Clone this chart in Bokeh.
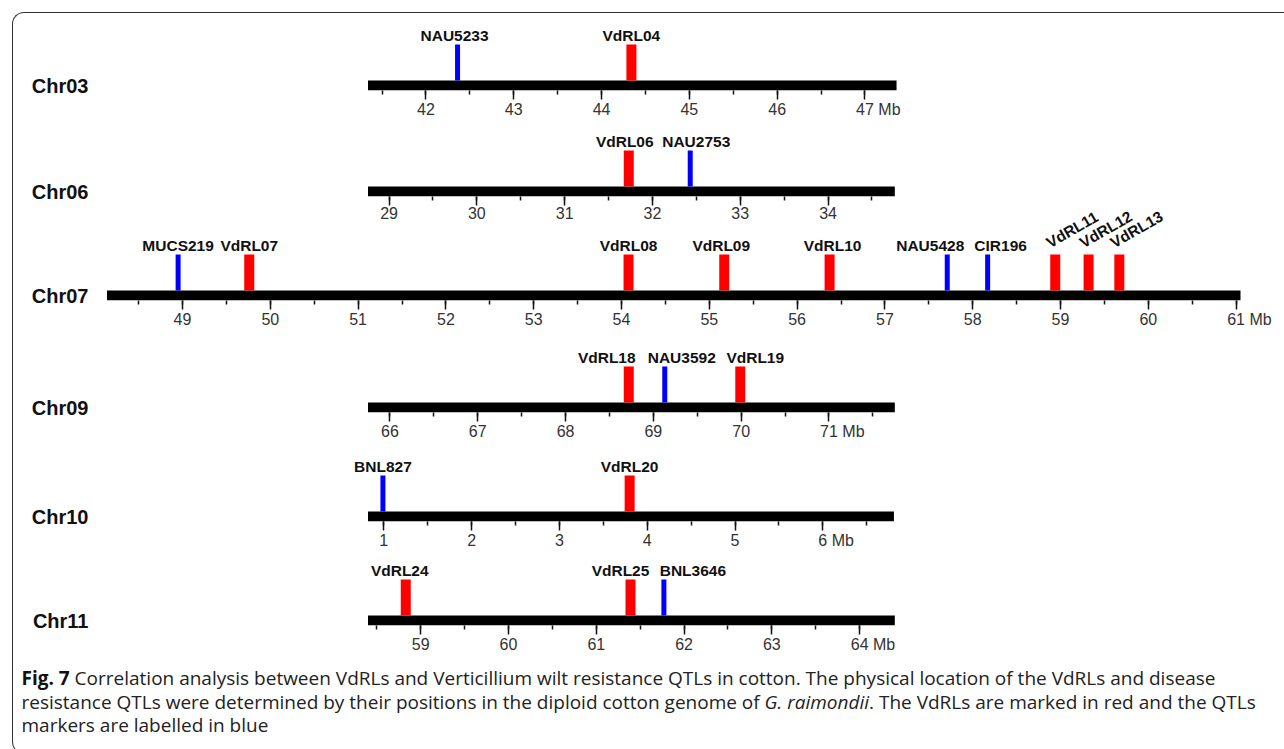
import math
from bokeh.plotting import figure
from bokeh.models import (ColumnDataSource, LabelSet, Range1d, LinearAxis,
                          SingleIntervalTicker, FixedTicker, Div)
from bokeh.layouts import column
from bokeh.core.properties import value
from bokeh.embed import file_html
from bokeh.resources import INLINE

# ---------------- data (Mb) ----------------
chrom_names = ["Chr03", "Chr06", "Chr07", "Chr09", "Chr10", "Chr11"]
chrom_start_mb = [41.34, 28.76, 48.14, 65.75, 0.82, 58.40]
chrom_end_mb = [47.36, 34.76, 61.05, 71.75, 6.81, 64.40]
unit_suffix = ["Mb", "", "Mb", "Mb", "Mb", "Mb"]

marker_names = ["NAU5233", "VdRL04",
                "VdRL06", "NAU2753",
                "MUCS219", "VdRL07", "VdRL08", "VdRL09", "VdRL10", "NAU5428",
                "CIR196", "VdRL11", "VdRL12", "VdRL13",
                "VdRL18", "NAU3592", "VdRL19",
                "BNL827", "VdRL20",
                "VdRL24", "VdRL25", "BNL3646"]
marker_chrom = ["Chr03", "Chr03",
                "Chr06", "Chr06",
                "Chr07", "Chr07", "Chr07", "Chr07", "Chr07", "Chr07",
                "Chr07", "Chr07", "Chr07", "Chr07",
                "Chr09", "Chr09", "Chr09",
                "Chr10", "Chr10",
                "Chr11", "Chr11", "Chr11"]
marker_pos_mb = [42.36, 44.34,
                 31.73, 32.43,
                 48.95, 49.76, 54.08, 55.17, 56.37, 57.71,
                 58.17, 58.94, 59.32, 59.67,
                 68.72, 69.13, 69.99,
                 0.99, 3.80,
                 58.83, 61.39, 61.77]
marker_kind = ["QTL", "VdRL",
               "VdRL", "QTL",
               "QTL", "VdRL", "VdRL", "VdRL", "VdRL", "QTL",
               "QTL", "VdRL", "VdRL", "VdRL",
               "VdRL", "QTL", "VdRL",
               "QTL", "VdRL",
               "VdRL", "VdRL", "QTL"]

# ---------------- styling / layout ----------------
kind_color = {"VdRL": "#ff0000", "QTL": "#0000ff"}
kind_width = {"VdRL": 10, "QTL": 5}
label_nudge_px = {"NAU5233": -3, "VdRL06": -4, "NAU2753": 6, "VdRL09": -3, "VdRL10": 3,
                  "NAU5428": -17, "CIR196": 13, "VdRL18": -22, "NAU3592": 17,
                  "VdRL19": 15, "VdRL24": -6, "VdRL25": -10, "BNL3646": 29}
rotated_labels = {"VdRL11", "VdRL12", "VdRL13"}

PX_PER_MB = 87.8
FIG_W = 1262
AXIS_H = 32
LEFT_PANEL = 85
CONTENT_LEFT = 13.5
FRAME_LEFT = CONTENT_LEFT + LEFT_PANEL
CHR_RIGHT = 88.5
TOP0 = 14
BAR_T = 10
MARK_H = 36
bar_left_px = [368, 368, 107, 368, 368, 368]
bar_bottom_px = [91, 197, 301, 413, 522, 626]
extra_top = [0, 0, 18, 0, 0, 0]   # rows whose frame reaches up over the row above

FONT = "Liberation Sans"

figs = []
for i, name in enumerate(chrom_names):
    cs, ce = chrom_start_mb[i], chrom_end_mb[i]
    top_px = (TOP0 if i == 0 else bar_bottom_px[i - 1] + AXIS_H) - extra_top[i]
    frame_h = bar_bottom_px[i] - top_px
    frame_w = FIG_W - LEFT_PANEL
    x0 = cs - (bar_left_px[i] - FRAME_LEFT) / PX_PER_MB
    x1 = x0 + frame_w / PX_PER_MB
    kw = {}
    if extra_top[i]:
        kw["styles"] = {"margin-top": "-%dpx" % extra_top[i]}
    p = figure(width=FIG_W, height=frame_h + AXIS_H,
               x_range=Range1d(x0, x1), y_range=Range1d(0, frame_h),
               x_axis_type=None, y_axis_type=None, toolbar_location=None,
               output_backend="svg", min_border_left=LEFT_PANEL, min_border_right=0,
               min_border_top=0, min_border_bottom=AXIS_H, **kw)
    p.outline_line_color = None
    p.background_fill_color = None
    p.border_fill_color = None

    ax = LinearAxis(ticker=SingleIntervalTicker(interval=1, num_minor_ticks=2),
                    bounds=(cs, ce))
    ax.axis_line_color = None
    ax.major_tick_in = 0
    ax.major_tick_out = 9
    ax.minor_tick_in = 0
    ax.minor_tick_out = 4
    ax.major_tick_line_width = 1.5
    ax.minor_tick_line_width = 1.5
    ax.major_tick_line_color = "#111111"
    ax.minor_tick_line_color = "#111111"
    ax.major_label_text_font = FONT
    ax.major_label_text_font_size = "16px"
    ax.major_label_text_color = "#333333"
    ax.major_label_standoff = 1
    if unit_suffix[i]:
        last = math.floor(ce)
        ax.major_label_overrides = {last: "\u2007\u2007\u2007%d %s" % (last, unit_suffix[i])}
    p.add_layout(ax, "below")

    # chromosome name as the single tick label of a left axis, at the bar's middle
    yax = LinearAxis(ticker=FixedTicker(ticks=[BAR_T / 2]))
    yax.major_label_overrides = {BAR_T / 2: name}
    yax.axis_line_color = None
    yax.major_tick_line_color = None
    yax.minor_tick_line_color = None
    yax.major_tick_in = 0
    yax.major_tick_out = 0
    yax.minor_tick_in = 0
    yax.minor_tick_out = 0
    yax.major_label_standoff = int(round(FRAME_LEFT - CHR_RIGHT))
    yax.major_label_text_font = FONT
    yax.major_label_text_font_style = "bold"
    yax.major_label_text_font_size = "20px"
    yax.major_label_text_color = "#111111"
    p.add_layout(yax, "left")

    p.quad(left=[cs], right=[ce], bottom=0, top=BAR_T,
           fill_color="black", line_color=None)

    sel = [j for j in range(len(marker_names)) if marker_chrom[j] == name]
    src = ColumnDataSource(dict(
        x=[marker_pos_mb[j] for j in sel],
        color=[kind_color[marker_kind[j]] for j in sel],
        lw=[kind_width[marker_kind[j]] for j in sel]))
    p.segment(x0="x", y0=BAR_T, x1="x", y1=BAR_T + MARK_H, line_color="color",
              line_width="lw", line_cap="butt", source=src)

    flat = [j for j in sel if marker_names[j] not in rotated_labels]
    rot = [j for j in sel if marker_names[j] in rotated_labels]
    if flat:
        fsrc = ColumnDataSource(dict(
            x=[marker_pos_mb[j] for j in flat],
            text=[marker_names[j] for j in flat],
            dx=[label_nudge_px.get(marker_names[j], 0) for j in flat]))
        p.add_layout(LabelSet(x="x", y=BAR_T + MARK_H + 4, text="text", x_offset="dx",
                              source=fsrc, text_align="center", text_baseline="alphabetic",
                              text_font=value(FONT), text_font_style="bold",
                              text_font_size="15.5px", text_color="#111111"))
    if rot:
        rsrc = ColumnDataSource(dict(
            x=[marker_pos_mb[j] for j in rot],
            text=[marker_names[j] for j in rot]))
        p.add_layout(LabelSet(x="x", y=BAR_T + MARK_H + 6, text="text", x_offset=-5,
                              angle=math.radians(30), source=rsrc, text_align="left",
                              text_baseline="alphabetic", text_font=value(FONT),
                              text_font_style="bold", text_font_size="15.5px",
                              text_color="#111111"))
    figs.append(p)

caption_html = (
    '<div style="font-family:\'Open Sans\';font-size:19px;line-height:23.5px;'
    'color:#222;padding:5px 0 0 3.5px;white-space:nowrap;overflow:hidden;">'
    '<b style="color:#111">Fig. 7</b> Correlation analysis between VdRLs and Verticillium wilt '
    'resistance QTLs in cotton. The physical location of the VdRLs and disease<br>'
    'resistance QTLs were determined by their positions in the diploid cotton genome of '
    '<i>G. raimondii</i>. The VdRLs are marked in red and the QTLs<br>'
    'markers are labelled in blue</div>')
cap = Div(text=caption_html, width=FIG_W, height=86)

layout = column(*figs, cap, spacing=0, styles={
    "border": "1.5px solid #333",
    "border-right": "none",
    "border-top-left-radius": "12px",
    "border-bottom-left-radius": "12px",
    "margin-top": "12px",
    "margin-left": "12px",
})

open("out.html", "w").write(file_html(layout, INLINE))
